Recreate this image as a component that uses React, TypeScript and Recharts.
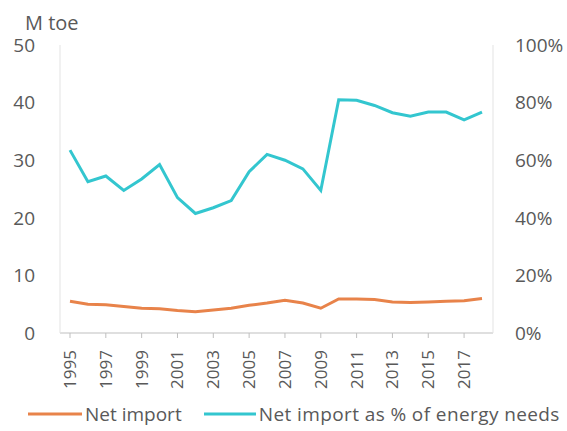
import React from "react";
import { LineChart, Line, XAxis, YAxis, Legend } from "recharts";

const years = [
  "1995", "1996", "1997", "1998", "1999", "2000", "2001", "2002", "2003", "2004", "2005", "2006",
  "2007", "2008", "2009", "2010", "2011", "2012", "2013", "2014", "2015", "2016", "2017", "2018",
];
const netImport = [5.5, 5.0, 4.9, 4.6, 4.3, 4.2, 3.9, 3.7, 4.0, 4.3, 4.8, 5.2, 5.7, 5.2, 4.3, 5.9, 5.9, 5.8, 5.4, 5.3, 5.4, 5.5, 5.6, 6.0];
const netImportPct = [63.5, 52.5, 54.5, 49.5, 53.5, 58.5, 47, 41.5, 43.5, 46, 56, 62, 60, 57, 49.5, 81, 80.8, 79, 76.5, 75.3, 76.7, 76.7, 74, 76.7];
const leftTicks = [0, 10, 20, 30, 40, 50];
const rightTicks = [0, 20, 40, 60, 80, 100];

const data = years.map((y, i) => ({ year: y, imp: netImport[i], pct: netImportPct[i] }));

const ORANGE = "#E8834A";
const CYAN = "#33C6CF";
const TEXT = "#595959";
const FONT = "'Open Sans', 'Liberation Sans', sans-serif";

const YearTick = (props: any) => {
  const { x, y, payload } = props;
  return (
    <text
      x={0}
      y={0}
      transform={`translate(${x + 6},${y + 10}) rotate(-90)`}
      textAnchor="end"
      fill={TEXT}
      fontSize={17}
      fontFamily={FONT}
    >
      {payload.value}
    </text>
  );
};

const LegendContent = () => (
  <div style={{ display: "flex", alignItems: "center", fontFamily: FONT, fontSize: 19, color: TEXT, marginLeft: 28 }}>
    <svg width={54} height={10}>
      <line x1={0} y1={5} x2={54} y2={5} stroke={ORANGE} strokeWidth={3} />
    </svg>
    <span style={{ marginLeft: 3, marginRight: 22 }}>Net import</span>
    <svg width={52} height={10}>
      <line x1={0} y1={5} x2={52} y2={5} stroke={CYAN} strokeWidth={3} />
    </svg>
    <span style={{ marginLeft: 3, whiteSpace: "nowrap", letterSpacing: 0.4 }}>Net import as % of energy needs</span>
  </div>
);

export default function App() {
  return (
    <div style={{ position: "absolute", left: 0, top: 0, background: "#fff" }}>
      <LineChart width={567} height={431} data={data} margin={{ top: 45, right: 0, bottom: 20, left: 0 }}>
        <text x={25} y={30} fill={TEXT} fontSize={20} fontFamily={FONT}>
          M toe
        </text>
        <XAxis
          dataKey="year"
          interval={1}
          height={52}
          tick={<YearTick />}
          tickSize={5}
          stroke="#bfbfbf"
          padding={{ left: 10, right: 11 }}
        />
        <YAxis
          yAxisId="left"
          domain={[0, 50]}
          ticks={leftTicks}
          width={60}
          tickLine={false}
          tickMargin={19}
          stroke="#e3e3e3"
          tick={{ fill: TEXT, fontSize: 19, fontFamily: FONT }}
        />
        <YAxis
          yAxisId="right"
          orientation="right"
          domain={[0, 100]}
          ticks={rightTicks}
          tickFormatter={(v: number) => `${v}%`}
          width={74}
          tickLine={false}
          tickMargin={16}
          stroke="#e3e3e3"
          tick={{ fill: TEXT, fontSize: 19, fontFamily: FONT, textAnchor: "start" }}
        />
        <Legend verticalAlign="bottom" content={<LegendContent />} wrapperStyle={{ bottom: 4 }} />
        <Line
          yAxisId="left"
          dataKey="imp"
          stroke={ORANGE}
          strokeWidth={3}
          dot={false}
          isAnimationActive={false}
        />
        <Line
          yAxisId="right"
          dataKey="pct"
          stroke={CYAN}
          strokeWidth={3}
          dot={false}
          isAnimationActive={false}
        />
      </LineChart>
    </div>
  );
}
